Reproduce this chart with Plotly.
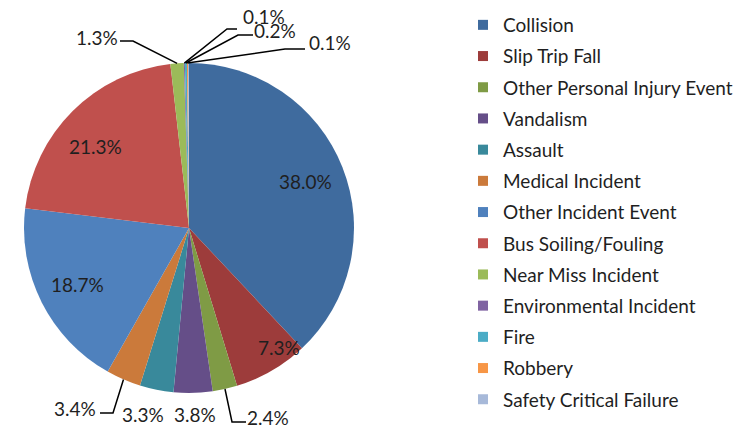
import math
import plotly.graph_objects as go

# incident share by type, percent
categories = [
    "Collision", "Slip Trip Fall", "Other Personal Injury Event", "Vandalism",
    "Assault", "Medical Incident", "Other Incident Event", "Bus Soiling/Fouling",
    "Near Miss Incident", "Environmental Incident", "Fire", "Robbery",
    "Safety Critical Failure",
]
shares = [38.0, 7.3, 2.4, 3.8, 3.3, 3.4, 18.7, 21.3, 1.3, 0.1, 0.2, 0.1, 0.1]
colors = [
    "#3f6b9e", "#9d3c3b", "#7f9b45", "#654e88", "#39899b", "#cb7a3b",
    "#4f81bd", "#c0504d", "#9bbb59", "#8064a2", "#4bacc6", "#f79646",
    "#a7b9d9",
]

W, H = 745, 428
CX, CY, R = 189, 228, 165          # pie centre / radius in px
FONT = dict(family="Lato", size=19, color="#1f1f1f")

# label placement (Excel style): inside -> (radius fraction, angle nudge)
inside = {
    "Collision": (0.76, 0),
    "Slip Trip Fall": (0.91, -7),
    "Other Incident Event": (0.76, 0),
    "Bus Soiling/Fouling": (0.75, -4),
}
# outside -> text centre px, leader elbow + tail px
outside = {
    "Other Personal Injury Event": ((268, 417), [(232, 422), (246, 422)]),
    "Vandalism": ((195, 414), []),
    "Assault": ((143, 414), []),
    "Medical Incident": ((75, 408), [(113, 413), (100, 413)]),
    "Near Miss Incident": ((97, 37), [(133, 41), (120, 41)]),
    "Environmental Incident": ((264, 16), [(227, 29), (237, 29)]),
    "Fire": ((275, 31), [(238, 35), (253, 35)]),
    "Robbery": ((330, 43), [(285, 49), (305, 49)]),
}


def paper(x, y):
    return x / W, 1 - y / H


fig = go.Figure()
fig.add_trace(go.Pie(
    labels=categories, values=shares, sort=False, direction="clockwise",
    rotation=0, marker=dict(colors=colors, line=dict(width=0)),
    textinfo="none", hoverinfo="label+percent", showlegend=False,
    domain=dict(x=[(CX - R) / W, (CX + R) / W], y=[1 - (CY + R) / H, 1 - (CY - R) / H]),
))

# legend via dummy square markers so the row spacing can be set
for cat, col in zip(categories, colors):
    fig.add_trace(go.Scatter(
        x=[None], y=[None], mode="markers", name=cat, legendgroup=cat,
        marker=dict(symbol="square", size=10, color=col),
    ))

total = sum(shares)
start = 0.0
annotations = []
shapes = []
for cat, s in zip(categories, shares):
    mid = (start + s / 2) / total * 2 * math.pi
    start += s
    text = f"{s:.1f}%"
    if cat in inside:
        frac, nudge = inside[cat]
        a = mid + math.radians(nudge)
        x, y = paper(CX + frac * R * math.sin(a), CY - frac * R * math.cos(a))
    elif cat in outside:
        (tx, ty), leader = outside[cat]
        x, y = paper(tx, ty)
        if leader:
            pts = [(CX + R * math.sin(mid), CY - R * math.cos(mid))] + leader
            path = "M " + " L ".join(f"{paper(px, py)[0]},{paper(px, py)[1]}" for px, py in pts)
            shapes.append(dict(type="path", xref="paper", yref="paper", path=path,
                               line=dict(color="black", width=1.5)))
    else:
        continue
    annotations.append(dict(x=x, y=y, xref="paper", yref="paper", text=text,
                            xanchor="center", yanchor="middle",
                            showarrow=False, font=FONT))

fig.update_layout(
    width=W, height=H,
    margin=dict(l=0, r=0, t=0, b=0),
    paper_bgcolor="white", plot_bgcolor="white",
    xaxis=dict(visible=False), yaxis=dict(visible=False),
    annotations=annotations, shapes=shapes,
    font=FONT,
    legend=dict(x=463 / W, y=1 - 6 / H, xanchor="left", yanchor="top",
                font=FONT, tracegroupgap=3.5, itemclick=False, maxheight=1),
)

fig.write_html("out.html", config={"displayModeBar": False},
               post_script="document.body.style.margin='0';")
